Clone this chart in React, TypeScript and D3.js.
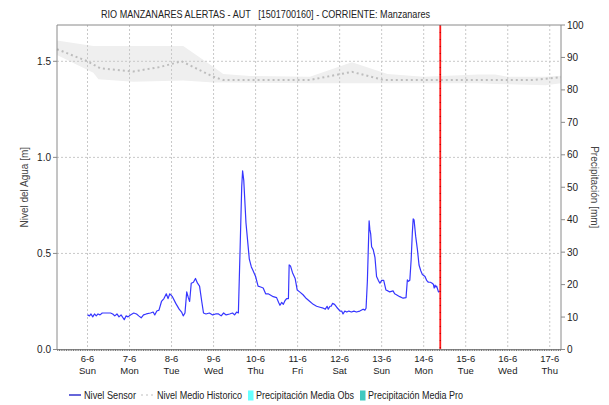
import React from "react";
import * as d3 from "d3";

const W = 609;
const H = 405;
const PLOT = { left: 57, right: 561, top: 25, bottom: 349.5 };

const MONTH_PREFIX = "2021-06-";
const domainStart = "05 06:35";
const domainEnd = "17 06:25";
const nowTime = "14 09:28";

const dayTicks = ["06", "07", "08", "09", "10", "11", "12", "13", "14", "15", "16", "17"];
const levelTicks = [0, 0.5, 1.0, 1.5];
const precipTicks = [0, 10, 20, 30, 40, 50, 60, 70, 80, 90, 100];
const levelMax = 1.689;
const precipMax = 100;

const sensorTimes = [
  "06 00:00", "06 01:10", "06 02:00", "06 03:00", "06 04:00", "06 05:00", "06 06:00", "06 07:10", "06 08:25", "06 10:00",
  "06 13:10", "06 14:25", "06 15:35", "06 16:50", "06 18:00", "06 19:10", "06 21:00", "06 22:00", "06 23:10", "07 00:30",
  "07 02:25", "07 04:00", "07 05:15", "07 06:40", "07 08:00", "07 09:35", "07 12:00", "07 13:30", "07 14:25", "07 15:35",
  "07 16:50", "07 18:15", "07 19:40", "07 21:00", "07 22:00", "07 23:00", "08 00:30", "08 02:25", "08 04:20", "08 05:45",
  "08 06:40", "08 07:40", "08 08:40", "08 09:35", "08 10:20", "08 11:15", "08 12:30", "08 13:40", "08 14:50", "08 16:00",
  "08 17:15", "08 18:15", "08 19:40", "08 21:35", "08 23:30", "09 01:10", "09 02:50", "09 04:20", "09 05:45", "09 07:10",
  "09 09:10", "09 10:50", "09 12:00", "09 13:10", "09 14:10", "09 15:05", "09 16:05", "09 16:35", "09 17:15", "09 18:30",
  "09 20:25", "09 21:35", "09 22:35", "10 00:00", "10 01:25", "10 02:55", "10 04:20", "10 05:45", "10 07:10", "10 08:10",
  "10 10:05", "10 12:00", "10 13:10", "10 13:55", "10 14:55", "10 15:50", "10 16:50", "10 17:45", "10 18:45", "10 19:10",
  "10 19:55", "10 21:05", "10 22:35", "10 23:45", "11 01:10", "11 03:05", "11 05:00", "11 07:00", "11 08:55", "11 10:50",
  "11 12:45", "11 14:40", "11 15:50", "11 16:50", "11 17:30", "11 18:30", "11 19:10", "11 19:55", "11 21:05", "11 22:20",
  "12 00:15", "12 01:10", "12 01:55", "12 02:55", "12 04:05", "12 05:15", "12 06:45", "12 08:10", "12 09:35", "12 11:30",
  "12 13:25", "12 14:25", "12 15:05", "12 15:50", "12 16:50", "12 17:15", "12 17:45", "12 18:15", "12 19:10", "12 20:10",
  "12 21:05", "12 22:05", "12 23:00", "13 00:00", "13 01:10", "13 02:25", "13 03:35", "13 04:35", "13 06:30", "13 07:25",
  "13 08:25", "13 10:20", "13 12:15", "13 13:55", "13 14:40", "13 15:20", "13 16:05", "13 16:50", "13 17:30", "13 18:00",
  "13 18:30", "13 19:25", "13 20:25", "13 21:20", "13 22:20", "13 23:15", "14 00:45", "14 01:40", "14 02:40", "14 03:50",
  "14 04:50", "14 05:30", "14 06:00", "14 06:30", "14 07:00", "14 07:25", "14 08:25", "14 09:20",
];
const sensorLevels = [
  0.18, 0.175, 0.185, 0.17, 0.185, 0.175, 0.185, 0.18, 0.19, 0.19,
  0.19, 0.185, 0.175, 0.185, 0.17, 0.18, 0.155, 0.175, 0.17, 0.18,
  0.19, 0.185, 0.175, 0.165, 0.18, 0.185, 0.19, 0.195, 0.18, 0.2,
  0.205, 0.25, 0.265, 0.29, 0.265, 0.29, 0.275, 0.24, 0.21, 0.195,
  0.175, 0.19, 0.3, 0.27, 0.25, 0.345, 0.35, 0.37, 0.345, 0.33,
  0.25, 0.19, 0.185, 0.19, 0.18, 0.185, 0.185, 0.175, 0.19, 0.18,
  0.185, 0.19, 0.18, 0.195, 0.19, 0.5, 0.85, 0.93, 0.88, 0.66,
  0.47, 0.43, 0.41, 0.38, 0.33, 0.325, 0.32, 0.29, 0.29, 0.285,
  0.275, 0.27, 0.245, 0.23, 0.245, 0.235, 0.255, 0.265, 0.265, 0.44,
  0.435, 0.4, 0.37, 0.31, 0.3, 0.285, 0.265, 0.25, 0.235, 0.225,
  0.22, 0.215, 0.21, 0.225, 0.21, 0.225, 0.225, 0.24, 0.235, 0.22,
  0.2, 0.2, 0.185, 0.2, 0.195, 0.2, 0.195, 0.2, 0.195, 0.2,
  0.21, 0.205, 0.215, 0.355, 0.67, 0.625, 0.6, 0.535, 0.52, 0.48,
  0.38, 0.36, 0.345, 0.36, 0.36, 0.31, 0.305, 0.3, 0.305, 0.29,
  0.285, 0.275, 0.267, 0.27, 0.362, 0.355, 0.36, 0.467, 0.605, 0.68,
  0.675, 0.59, 0.52, 0.44, 0.41, 0.39, 0.38, 0.36, 0.35, 0.35,
  0.345, 0.34, 0.32, 0.335, 0.325, 0.33, 0.3, 0.305,
];

const histTimes = [
  "05 06:35", "06 00:00", "06 07:10", "07 02:10", "07 17:15", "08 05:45", "08 23:45", "09 05:30",
  "11 07:00", "12 07:00", "13 01:00", "16 14:25", "17 00:00", "17 06:25",
];
const histMean = [1.563, 1.5, 1.464, 1.447, 1.47, 1.5, 1.42, 1.403, 1.403, 1.445, 1.403, 1.403, 1.412, 1.417];

const bandTimes = [
  "05 06:35", "06 03:20", "06 06:15", "07 02:10", "08 06:40", "09 00:00", "09 05:30", "09 20:50", "11 07:00",
  "12 07:00", "13 03:20", "14 00:00", "15 07:10", "15 16:50", "16 00:00", "16 21:35", "17 06:25",
];
const bandUpper = [1.608, 1.58, 1.58, 1.58, 1.58, 1.47, 1.434, 1.424, 1.42, 1.495, 1.434, 1.42, 1.432, 1.432, 1.42, 1.42, 1.425];
const bandLower = [1.533, 1.44, 1.407, 1.394, 1.4, 1.39, 1.39, 1.388, 1.386, 1.386, 1.386, 1.386, 1.386, 1.382, 1.38, 1.376, 1.386];

const titleText = "RIO MANZANARES ALERTAS - AUT   [1501700160] - CORRIENTE: Manzanares";
const leftAxisTitle = "Nivel del Agua [m]";
const rightAxisTitle = "Precipitación [mm]";
const legendLabels = ["Nivel Sensor", "Nivel Medio Historico", "Precipitación Media Obs", "Precipitación Media Pro"];

const parse = d3.timeParse("%Y-%m-%d %H:%M");
const toDate = (s: string) => parse(MONTH_PREFIX + s) as Date;

const FONT = "'Liberation Sans', Arial, sans-serif";

export default function App() {
  const x = d3.scaleTime().domain([toDate(domainStart), toDate(domainEnd)]).range([PLOT.left, PLOT.right]);
  const yL = d3.scaleLinear().domain([0, levelMax]).range([PLOT.bottom, PLOT.top]);
  const yR = d3.scaleLinear().domain([0, precipMax]).range([PLOT.bottom, PLOT.top]);

  const sensor = sensorTimes.map((t, i) => ({ d: toDate(t), v: sensorLevels[i] }));
  const hist = histTimes.map((t, i) => ({ d: toDate(t), v: histMean[i] }));
  const band = bandTimes.map((t, i) => ({ d: toDate(t), u: bandUpper[i], l: bandLower[i] }));

  const line = d3.line<{ d: Date; v: number }>().x((p) => x(p.d)).y((p) => yL(p.v));
  const area = d3
    .area<{ d: Date; u: number; l: number }>()
    .x((p) => x(p.d))
    .y0((p) => yL(p.l))
    .y1((p) => yL(p.u));

  const days = dayTicks.map((d) => toDate(d + " 00:00"));
  const hours = d3.timeHour.every(1)!.range(toDate(domainStart), toDate(domainEnd));
  const fmtDay = d3.timeFormat("%-d-%-m");
  const fmtWd = d3.timeFormat("%a");
  const xNow = x(toDate(nowTime));

  const axisColor = "#8a8a8a";
  const gridColor = "#c8c8c8";
  const textColor = "#222";

  return (
    <svg
      width={W}
      height={H}
      viewBox={`0 0 ${W} ${H}`}
      style={{ position: "absolute", left: 0, top: 0, display: "block", background: "#fff" }}
      fontFamily={FONT}
    >
      <rect x={0} y={0} width={W} height={H} fill="#fff" />
      {/* title */}
      <text
        x={265.5}
        y={17.5}
        textAnchor="middle"
        fontSize={11}
        fill={textColor}
        style={{ whiteSpace: "pre" }}
        textLength={329}
        lengthAdjust="spacingAndGlyphs"
      >
        {titleText}
      </text>

      {/* historic band */}
      <path d={area(band) || ""} fill="#efefef" stroke="none" />

      {/* grid */}
      {days.map((d, i) => (
        <line key={"vg" + i} x1={x(d)} x2={x(d)} y1={PLOT.top} y2={PLOT.bottom} stroke={gridColor} strokeDasharray="2,2" strokeWidth={1} />
      ))}
      {levelTicks.filter((v) => v > 0).map((v, i) => (
        <line key={"hg" + i} x1={PLOT.left} x2={PLOT.right} y1={yL(v)} y2={yL(v)} stroke={gridColor} strokeDasharray="2,2" strokeWidth={1} />
      ))}

      {/* historic mean */}
      <path d={line(hist) || ""} fill="none" stroke="#bdbdbd" strokeWidth={2} strokeDasharray="2,3" />

      {/* sensor */}
      <path d={line(sensor) || ""} fill="none" stroke="#3636ff" strokeWidth={1.2} strokeLinejoin="round" />

      {/* now line */}
      <line x1={xNow} x2={xNow} y1={PLOT.top} y2={PLOT.bottom} stroke="#ff1a1a" strokeWidth={1.8} />
      <line x1={xNow} x2={xNow} y1={PLOT.top} y2={PLOT.bottom} stroke="#b00000" strokeWidth={1} strokeDasharray="1,6" />

      {/* frame */}
      <line x1={PLOT.left} x2={PLOT.right} y1={PLOT.top} y2={PLOT.top} stroke={axisColor} />
      <line x1={PLOT.left} x2={PLOT.left} y1={PLOT.top} y2={PLOT.bottom} stroke={axisColor} />
      <line x1={PLOT.right} x2={PLOT.right} y1={PLOT.top} y2={PLOT.bottom} stroke={axisColor} />
      <line x1={PLOT.left} x2={PLOT.right} y1={PLOT.bottom} y2={PLOT.bottom} stroke={axisColor} />
      {hours.map((h, i) => (
        <line key={"ht" + i} x1={x(h)} x2={x(h)} y1={PLOT.bottom} y2={PLOT.bottom + 1.5} stroke="#555" strokeWidth={0.8} />
      ))}

      {/* left axis */}
      {levelTicks.map((v, i) => (
        <g key={"lt" + i}>
          <line x1={PLOT.left - 4} x2={PLOT.left} y1={yL(v)} y2={yL(v)} stroke={axisColor} />
          <text x={PLOT.left - 6} y={yL(v) + 3.5} textAnchor="end" fontSize={10} fill={textColor}>
            {v.toFixed(1)}
          </text>
        </g>
      ))}
      <text transform={`translate(28,${(PLOT.top + PLOT.bottom) / 2}) rotate(-90)`} textAnchor="middle" fontSize={10} fill="#444">
        {leftAxisTitle}
      </text>

      {/* right axis */}
      {precipTicks.map((v, i) => (
        <g key={"rt" + i}>
          <line x1={PLOT.right} x2={PLOT.right + 4} y1={yR(v)} y2={yR(v)} stroke={axisColor} />
          <text x={PLOT.right + 6} y={yR(v) + 3.5} textAnchor="start" fontSize={10} fill={textColor}>
            {v}
          </text>
        </g>
      ))}
      <text transform={`translate(591,${(PLOT.top + PLOT.bottom) / 2}) rotate(90)`} textAnchor="middle" fontSize={10} fill="#444">
        {rightAxisTitle}
      </text>

      {/* x labels */}
      {days.map((d, i) => (
        <g key={"xl" + i}>
          <text x={x(d)} y={362} textAnchor="middle" fontSize={9.5} fill={textColor}>
            {fmtDay(d)}
          </text>
          <text x={x(d)} y={374} textAnchor="middle" fontSize={9.5} fill={textColor}>
            {fmtWd(d)}
          </text>
        </g>
      ))}

      {/* legend */}
      <line x1={69} x2={81} y1={395} y2={395} stroke="#0000c0" strokeWidth={1.2} />
      <text x={84} y={398.5} fontSize={10} fill={textColor} textLength={52} lengthAdjust="spacingAndGlyphs">
        {legendLabels[0]}
      </text>
      <line x1={141} x2={156} y1={395} y2={395} stroke="#c0c0c0" strokeWidth={1.2} strokeDasharray="2,3" />
      <text x={157} y={398.5} fontSize={10} fill={textColor} textLength={85} lengthAdjust="spacingAndGlyphs">
        {legendLabels[1]}
      </text>
      <rect x={248} y={390.5} width={5.5} height={10} fill="#66ffff" />
      <text x={256} y={398.5} fontSize={10} fill={textColor} textLength={98} lengthAdjust="spacingAndGlyphs">
        {legendLabels[2]}
      </text>
      <rect x={360} y={390.5} width={5.5} height={10} fill="#40c8c0" />
      <text x={368} y={398.5} fontSize={10} fill={textColor} textLength={95} lengthAdjust="spacingAndGlyphs">
        {legendLabels[3]}
      </text>
    </svg>
  );
}
